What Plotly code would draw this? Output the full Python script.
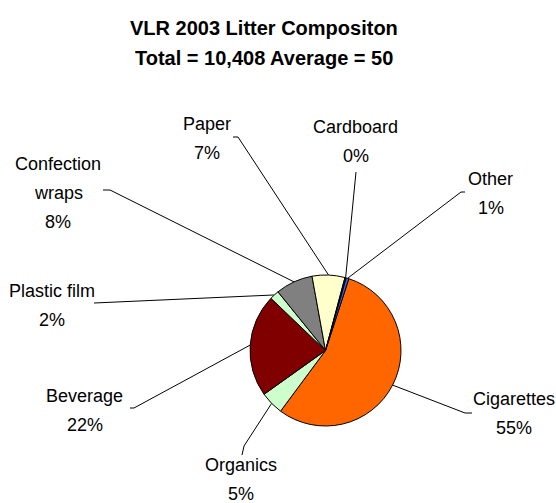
import numpy as np
import plotly.graph_objects as go

# data
categories = ["Cigarettes", "Organics", "Beverage", "Plastic film",
              "Confection wraps", "Paper", "Cardboard", "Other"]
counts = [5740, 520, 2290, 210, 830, 730, 30, 58]
label_lines = [["Cigarettes"], ["Organics"], ["Beverage"], ["Plastic film"],
               ["Confection", "wraps"], ["Paper"], ["Cardboard"], ["Other"]]
colors = ["#FF6600", "#CCFFCC", "#800000", "#CCFFCC",
          "#808080", "#FFFFCC", "#000080", "#3366FF"]
title_lines = ["VLR 2003 Litter Compositon", "Total = 10,408 Average = 50"]

# layout (pixels)
W, H = 556, 503
CX, CY, R = 325.5, 350.5, 75.5
ROTATION = 18
LINE_GAP = 29
LABEL_FONT = dict(family="Liberation Sans, Arial", size=18, color="#000000")
TITLE_FONT = dict(family="Liberation Sans, Arial", size=20, color="#000000")

# label centre x / first baseline, then leader points next to the label
label_xy = [(513.5, 405), (241, 471), (84.5, 402), (52, 297),
            (58, 170), (206.5, 130), (355.5, 133), (490.5, 185)]
leader_pts = [[(472, 413), (465, 413)], [(242, 455), (244, 446)],
              [(130, 408), (134, 408)], [(94, 303)],
              [(103, 190), (110, 190)], [(233, 137), (238, 137)],
              [(356, 172)], [(465, 192), (461, 192)]]

total = sum(counts)
cum = np.cumsum([0] + counts[:-1])
mid_deg = ROTATION + 360 * (cum + np.array(counts) / 2) / total

fig = go.Figure()

fig.add_trace(go.Pie(
    labels=categories, values=counts, sort=False, direction="clockwise",
    rotation=ROTATION, textinfo="none", hoverinfo="label+percent",
    marker=dict(colors=colors, line=dict(color="#000000", width=1)),
    domain=dict(x=[(CX - R) / W, (CX + R) / W],
                y=[1 - (CY + R) / H, 1 - (CY - R) / H]),
    showlegend=False,
))

# leader lines: label side -> slice edge at mid angle
lx, ly = [], []
for pts, a in zip(leader_pts, mid_deg):
    ex = CX + R * np.sin(np.radians(a))
    ey = CY - R * np.cos(np.radians(a))
    for p in pts:
        lx.append(p[0])
        ly.append(p[1])
    lx += [ex, None]
    ly += [ey, None]

fig.add_trace(go.Scatter(x=lx, y=ly, mode="lines", hoverinfo="skip",
                         line=dict(color="#000000", width=1), showlegend=False))

annotations = []
for lines, v, (x, y) in zip(label_lines, counts, label_xy):
    rows = lines + [f"{round(100 * v / total)}%"]
    for i, t in enumerate(rows):
        annotations.append(dict(
            x=x, y=y + i * LINE_GAP - 6, text=t, showarrow=False,
            xref="x", yref="y", xanchor="center", yanchor="middle",
            font=LABEL_FONT))
for i, t in enumerate(title_lines):
    annotations.append(dict(
        x=264, y=35 + i * 30 - 7, text=f"<b>{t}</b>", showarrow=False,
        xref="x", yref="y", xanchor="center", yanchor="middle",
        font=TITLE_FONT))

fig.update_xaxes(range=[0, W], visible=False, fixedrange=True)
fig.update_yaxes(range=[H, 0], visible=False, fixedrange=True)
fig.update_layout(
    width=W, height=H,
    margin=dict(l=0, r=0, t=0, b=0),
    paper_bgcolor="#FFFFFF", plot_bgcolor="rgba(0,0,0,0)",
    annotations=annotations,
)

# drop the default 8px page margin so the figure sits at the window corner
fig.write_html("out.html", config={"displayModeBar": False},
               post_script="document.body.style.margin='0';")
